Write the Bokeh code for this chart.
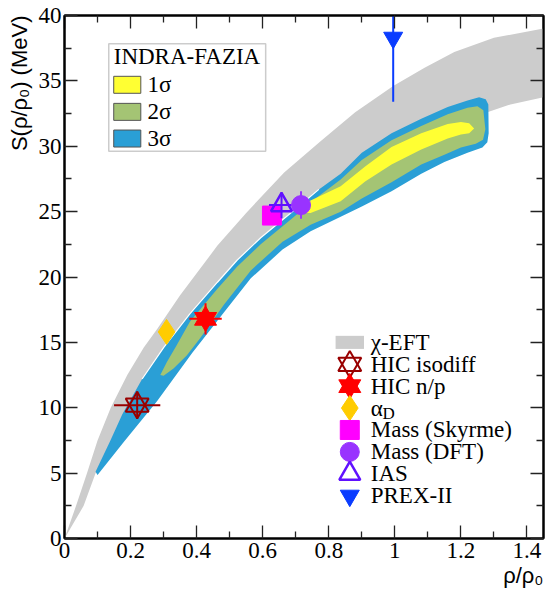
from bokeh.plotting import figure
from bokeh.models import (LinearAxis, FixedTicker, NumeralTickFormatter, CustomJSTickFormatter,
                          Label, BoxAnnotation, Range1d, Title)
from bokeh.embed import file_html
from bokeh.resources import INLINE

# ---------------- data ----------------
# chi-EFT band (upper edge left->right, lower edge right->left)
eft_upper_x = [0.0, 0.035, 0.068, 0.10, 0.14, 0.19, 0.24, 0.28, 0.35, 0.463, 0.55, 0.665, 0.776, 0.88, 0.995, 1.09, 1.18, 1.30, 1.45]
eft_upper_y = [0.0, 2.5, 5.0, 7.5, 10.0, 12.5, 14.6, 16.0, 18.6, 22.4, 24.9, 28.0, 30.4, 32.6, 34.6, 36.0, 37.2, 38.3, 39.0]
eft_lower_x = [1.45, 1.35, 1.28, 1.2, 1.0, 0.8, 0.6, 0.46, 0.3, 0.17, 0.094, 0.058, 0.0]
eft_lower_y = [33.75, 33.2, 32.6, 32.0, 30.0, 26.6, 22.6, 19.0, 14.2, 9.0, 5.0, 2.5, 0.0]

# INDRA-FAZIA 3 sigma contour
sig3_x = [0.094, 0.139, 0.175, 0.235, 0.30, 0.38, 0.463, 0.523, 0.594, 0.685, 0.77, 0.836, 0.9, 0.99, 1.08, 1.16, 1.22, 1.255, 1.275, 1.283,
          1.284, 1.28, 1.265, 1.22, 1.15, 1.08, 0.99, 0.9, 0.836, 0.745, 0.66, 0.564, 0.483, 0.387, 0.28, 0.18, 0.10]
sig3_y = [5.1, 7.5, 9.5, 12.2, 14.6, 17.2, 19.6, 21.3, 23.0, 24.9, 26.7, 27.9, 29.5, 31.0, 32.1, 33.0, 33.5, 33.75, 33.6, 33.2,
          31.0, 30.3, 29.9, 29.5, 28.8, 27.9, 26.55, 25.4, 24.6, 23.5, 22.1, 19.9, 17.3, 14.2, 10.5, 7.4, 4.85]
# 2 sigma contour
sig2_x = [0.29, 0.31, 0.34, 0.38, 0.463, 0.523, 0.594, 0.685, 0.77, 0.836, 0.9, 0.99, 1.08, 1.16, 1.22, 1.25, 1.268, 1.274, 1.267, 1.245,
          1.2, 1.15, 1.08, 0.99, 0.9, 0.836, 0.745, 0.66, 0.564, 0.483, 0.41, 0.37, 0.33, 0.30]
sig2_y = [12.5, 13.5, 14.8, 16.6, 19.1, 20.8, 22.5, 24.4, 26.2, 27.45, 28.95, 30.45, 31.55, 32.45, 32.95, 33.05, 32.75, 31.3, 30.5, 30.2,
          29.9, 29.35, 28.6, 27.25, 26.0, 25.0, 24.0, 22.7, 20.5, 17.9, 15.3, 14.0, 13.0, 12.45]
# 1 sigma contour
sig1_x = [0.70, 0.745, 0.836, 0.91, 0.99, 1.08, 1.16, 1.2, 1.225, 1.24,
          1.225, 1.2, 1.16, 1.08, 0.99, 0.91, 0.836, 0.745, 0.71]
sig1_y = [25.3, 25.85, 26.95, 28.45, 29.95, 31.0, 31.7, 31.85, 31.75, 31.35,
          31.0, 30.9, 30.6, 29.75, 28.6, 27.3, 25.8, 24.9, 24.9]

# constraints (x, y, x error, y error)
hic_iso_x, hic_iso_y, hic_iso_xerr, hic_iso_yerr = [0.22], [10.2], [0.07], [1.05]
hic_np_x, hic_np_y, hic_np_xerr, hic_np_yerr = [0.427], [16.8], [0.049], [1.2]
alpha_d_x, alpha_d_y = [0.309], [15.8]
mass_sky_x, mass_sky_y = [0.628], [24.7]
mass_dft_x, mass_dft_y, mass_dft_yerr = [0.716], [25.5], [1.05]
ias_x, ias_y, ias_xerr, ias_yerr = [0.657], [25.5], [0.038], [1.0]
prex_x, prex_y, prex_yerr = [0.995], [38.3], [4.9]

x_ticks = [0, 0.2, 0.4, 0.6, 0.8, 1.0, 1.2, 1.4]
x_minor = [0.1, 0.3, 0.5, 0.7, 0.9, 1.1, 1.3]
y_ticks = [0, 5, 10, 15, 20, 25, 30, 35, 40]
y_minor = [2.5, 7.5, 12.5, 17.5, 22.5, 27.5, 32.5, 37.5]

sigma_labels = ["1\u03c3", "2\u03c3", "3\u03c3"]
legend_labels = ["\u03c7-EFT", "HIC isodiff", "HIC n/p", "\u03b1", "Mass (Skyrme)", "Mass (DFT)", "IAS", "PREX-II"]
x_title = "\u03c1/\u03c1\u2080"
y_title = "S(\u03c1/\u03c1\u2080) (MeV)"

# colours
C_GRAY = "#cccccc"
C_YEL = "#ffff33"
C_GRN = "#a4c474"
C_BLU = "#2a9fd6"
C_ISO = "#990000"
C_NP = "#ff0000"
C_AD = "#ffcc00"
C_SKY = "#ff00ff"
C_DFT = "#9933ff"
C_IAS = "#6010ff"
C_PREX = "#0a3cff"

SERIF = "Liberation Serif"
SANS = "Liberation Sans"

p = figure(width=548, height=598, x_range=Range1d(0, 1.45), y_range=Range1d(0, 40),
           output_backend="svg", toolbar_location=None,
           min_border_left=64, min_border_right=5, min_border_top=15, min_border_bottom=60)
p.xgrid.visible = False
p.ygrid.visible = False
p.outline_line_color = "black"
p.outline_line_width = 2
p.background_fill_color = "white"
p.border_fill_color = "white"

p.add_layout(LinearAxis(), "above")
p.add_layout(LinearAxis(), "right")

for ax in p.xaxis:
    ax.ticker = FixedTicker(ticks=x_ticks, minor_ticks=x_minor)
    ax.formatter = NumeralTickFormatter(format="0.[0]")
for ax in p.yaxis:
    ax.ticker = FixedTicker(ticks=y_ticks, minor_ticks=y_minor)
for ax in p.axis:
    ax.axis_line_color = "black"
    ax.axis_line_width = 2
    ax.major_tick_in = 13
    ax.major_tick_out = 0
    ax.minor_tick_in = 7
    ax.minor_tick_out = 0
    ax.major_tick_line_color = "#222222"
    ax.minor_tick_line_color = "#222222"
    ax.major_tick_line_width = 1.3
    ax.minor_tick_line_width = 1.3
    ax.major_label_text_font = SERIF
    ax.major_label_text_font_size = "23px"
    ax.major_label_text_color = "black"
for ax in [p.above[0], p.right[0]]:
    ax.formatter = CustomJSTickFormatter(code="return ''")
    ax.major_label_text_font_size = "10px"
    ax.major_label_standoff = 0
p.below[0].major_label_standoff = 4
p.left[0].major_label_standoff = 3

# axis titles at the ends of the axes
p.add_layout(Title(text=y_title, align="right", text_font=SANS, text_font_size="22px",
                   text_font_style="normal", text_color="black", standoff=8), "left")
p.add_layout(Title(text=x_title, align="right", text_font=SANS, text_font_size="22px",
                   text_font_style="normal", text_color="black", standoff=0), "below")

# bands
p.patch(eft_upper_x + eft_lower_x, eft_upper_y + eft_lower_y, fill_color=C_GRAY, line_color=None)
p.patch(sig3_x, sig3_y, fill_color=C_BLU, line_color=None)
# thin white seam between the chi-EFT band and the 3 sigma contour
seam = [(a, b) for a, b in zip(sig3_x[:11], sig3_y[:11]) if a >= 0.2]
p.line([a for a, b in seam], [b for a, b in seam], line_color="white", line_width=1.2)
p.patch(sig2_x, sig2_y, fill_color=C_GRN, line_color=None)
p.patch(sig1_x, sig1_y, fill_color=C_YEL, line_color=None)

def hbar(x, y, e, color):
    p.segment([a - b for a, b in zip(x, e)], y, [a + b for a, b in zip(x, e)], y, line_color=color, line_width=2)

def vbar(x, y, e, color):
    p.segment(x, [a - b for a, b in zip(y, e)], x, [a + b for a, b in zip(y, e)], line_color=color, line_width=2)

# HIC isodiff (open six-pointed star)
hbar(hic_iso_x, hic_iso_y, hic_iso_xerr, C_ISO)
vbar(hic_iso_x, hic_iso_y, hic_iso_yerr, C_ISO)
for m in ["triangle", "inverted_triangle"]:
    p.scatter(hic_iso_x, hic_iso_y, marker=m, size=23, fill_color=None, line_color=C_ISO, line_width=2)
# HIC n/p (filled star)
hbar(hic_np_x, hic_np_y, hic_np_xerr, C_NP)
vbar(hic_np_x, hic_np_y, hic_np_yerr, C_NP)
for m in ["triangle", "inverted_triangle"]:
    p.scatter(hic_np_x, hic_np_y, marker=m, size=22, fill_color=C_NP, line_color=C_NP, line_width=1)
# alpha_D
p.scatter(alpha_d_x, alpha_d_y, marker="diamond", size=25, fill_color=C_AD, line_color=C_AD)
# Mass (Skyrme)
p.scatter(mass_sky_x, mass_sky_y, marker="square", size=19, fill_color=C_SKY, line_color=C_SKY)
# IAS
hbar(ias_x, ias_y, ias_xerr, C_IAS)
vbar(ias_x, ias_y, ias_yerr, C_IAS)
p.scatter(ias_x, ias_y, marker="triangle", size=21, fill_color=None, line_color=C_IAS, line_width=2.5)
# Mass (DFT)
vbar(mass_dft_x, mass_dft_y, mass_dft_yerr, C_DFT)
p.scatter(mass_dft_x, mass_dft_y, marker="circle", size=19, fill_color=C_DFT, line_color=C_DFT)
# PREX-II
vbar(prex_x, prex_y, prex_yerr, C_PREX)
p.scatter(prex_x, prex_y, marker="inverted_triangle", size=19, fill_color=C_PREX, line_color=C_PREX)

# ---------- INDRA-FAZIA legend (layout in data units) ----------
L1_LEFT, L1_RIGHT, L1_TOP, L1_BOTTOM = 0.134, 0.609, 37.84, 29.62
L1_SW_L, L1_SW_R, L1_SW_H = 0.149, 0.231, 0.65
L1_ROWS = [34.70, 32.63, 30.59]
p.add_layout(BoxAnnotation(left=L1_LEFT, right=L1_RIGHT, top=L1_TOP, bottom=L1_BOTTOM,
                           fill_color=None, line_color="#555555", line_width=1.5))
p.add_layout(Label(x=L1_SW_L, y=36.86, text="INDRA-FAZIA", text_font=SERIF, text_font_size="23px",
                   text_baseline="middle", text_color="black"))
for row, col, lab in zip(L1_ROWS, [C_YEL, C_GRN, C_BLU], sigma_labels):
    p.quad(left=[L1_SW_L], right=[L1_SW_R], top=[row + L1_SW_H], bottom=[row - L1_SW_H],
           fill_color=col, line_color="#555555", line_width=1)
    p.add_layout(Label(x=0.251, y=row, text=lab, text_font=SERIF, text_font_size="23px",
                       text_baseline="middle", text_color="black"))

# ---------- constraints legend ----------
L2_X, L2_TX, L2_TOP, L2_STEP = 0.8636, 0.927, 15.0, 1.675
rows = [L2_TOP - i * L2_STEP for i in range(8)]
p.quad(left=[L2_X - 0.043], right=[L2_X + 0.043], top=[rows[0] + 0.5], bottom=[rows[0] - 0.5],
       fill_color=C_GRAY, line_color=None)
for m in ["triangle", "inverted_triangle"]:
    p.scatter([L2_X], [rows[1]], marker=m, size=23, fill_color=None, line_color=C_ISO, line_width=2)
for m in ["triangle", "inverted_triangle"]:
    p.scatter([L2_X], [rows[2]], marker=m, size=22, fill_color=C_NP, line_color=C_NP, line_width=1)
p.scatter([L2_X], [rows[3]], marker="diamond", size=25, fill_color=C_AD, line_color=C_AD)
p.scatter([L2_X], [rows[4]], marker="square", size=19, fill_color=C_SKY, line_color=C_SKY)
p.scatter([L2_X], [rows[5]], marker="circle", size=19, fill_color=C_DFT, line_color=C_DFT)
p.scatter([L2_X], [rows[6]], marker="triangle", size=21, fill_color=None, line_color=C_IAS, line_width=2.5)
p.scatter([L2_X], [rows[7]], marker="inverted_triangle", size=19, fill_color=C_PREX, line_color=C_PREX)
for r, lab in zip(rows, legend_labels):
    p.add_layout(Label(x=L2_TX, y=r, text=lab, text_font=SERIF, text_font_size="23px",
                       text_baseline="middle", text_color="black"))
p.add_layout(Label(x=L2_TX + 0.036, y=rows[3] - 0.45, text="D", text_font=SERIF, text_font_size="17px",
                   text_baseline="middle", text_color="black"))

open("out.html", "w").write(file_html(p, INLINE))
